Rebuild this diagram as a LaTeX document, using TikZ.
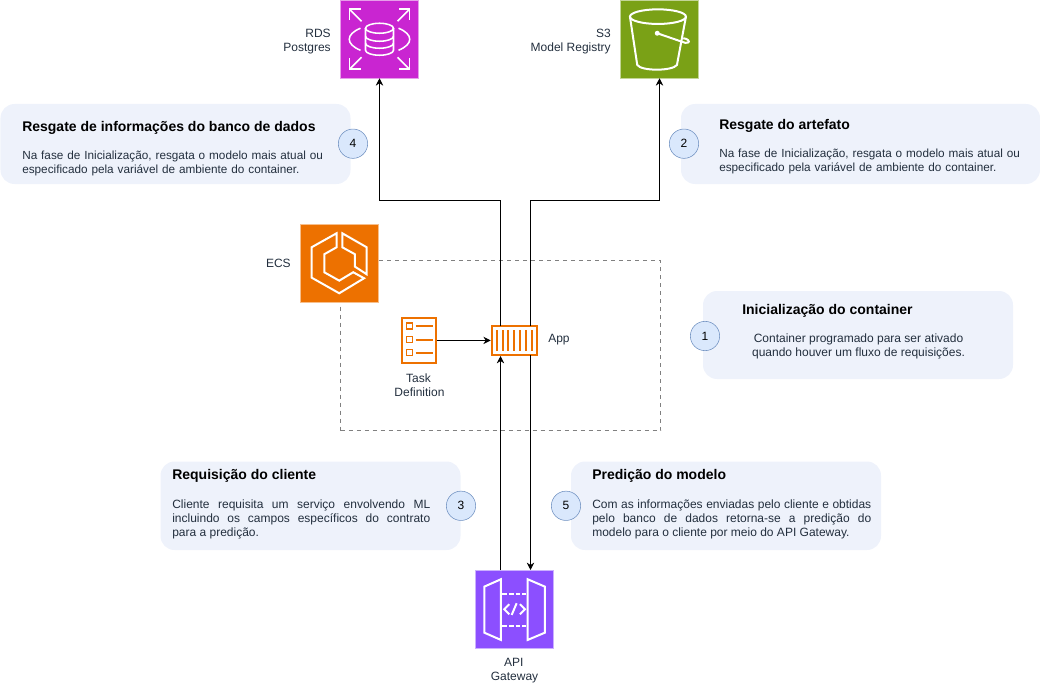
\documentclass[tikz,border=0pt]{standalone}
\usepackage{fontspec}
\setmainfont{Liberation Sans}
\usetikzlibrary{arrows.meta}
\definecolor{PanelBlue}{HTML}{EEF2FB}
\definecolor{BadgeBlue}{HTML}{DAE8FC}
\definecolor{BadgeLine}{HTML}{6C8EBF}
\definecolor{LabelGray}{HTML}{232F3E}
\definecolor{RdsPink}{HTML}{C925D1}
\definecolor{SGreen}{HTML}{7AA116}
\definecolor{EcsOrange}{HTML}{ED7100}
\definecolor{ApiPurple}{HTML}{8C4FFF}
\tikzset{
  panel/.style={fill=PanelBlue,rounded corners=10.5pt},
  badge/.style={circle,draw=BadgeLine,fill=BadgeBlue,minimum size=22pt,inner sep=0pt,font=\fontsize{9}{10.5}\selectfont},
  awsicon/.style={minimum size=58.5pt,inner sep=0pt,outer sep=0pt,draw=white!55!#1,line width=.5pt,fill=#1},
  iconline/.style={draw=white,line width=1.5pt,line join=miter},
  label/.style={text=LabelGray,font=\fontsize{9}{10.5}\selectfont,align=center,inner sep=0pt},
  title/.style={anchor=west,inner sep=0pt,font=\bfseries\fontsize{10.5}{12}\selectfont},
  body/.style={anchor=north west,inner sep=0pt,text=LabelGray,font=\fontsize{9}{10.5}\selectfont},
  flow/.style={-{Stealth[length=5.5pt,width=5.5pt]},line width=.75pt}
}
\begin{document}
\begin{tikzpicture}[x=.75pt,y=-.75pt]
\useasboundingbox (0,0) rectangle (1040,685);

% group
\node[draw=gray,dashed,line width=.5pt,minimum width=240pt,minimum height=127.5pt,inner sep=0pt] (group) at (500.5,345.5) {};

% panels
\fill[panel] (.5,104) rectangle (350.5,184);
\fill[panel] (681,104) rectangle (1040,184);
\fill[panel] (703,291) rectangle (1013,379);
\fill[panel] (160.5,461.5) rectangle (460.5,550);
\fill[panel] (571,461.5) rectangle (881,550);

% icons
\node[awsicon=RdsPink] (rds) at (379.25,39.25) {};
\node[awsicon=SGreen] (s3) at (659.25,39.25) {};
\node[awsicon=EcsOrange] (ecs) at (339.25,263.25) {};
\node[awsicon=ApiPurple] (api) at (514.25,609.25) {};

% rds glyph
\begin{scope}[iconline,line width=1.15pt,shift={(379.5,39.25)}]
\draw (-14,-11) -- (-14,11) arc[start angle=180,end angle=0,x radius=14,y radius=5] -- (14,-11);
\draw (0,-11) ellipse[x radius=14,y radius=5];
\draw (-14,-3) arc[start angle=180,end angle=0,x radius=14,y radius=5];
\draw (-14,4) arc[start angle=180,end angle=0,x radius=14,y radius=5];
\draw (-19,-11) .. controls (-34,-5) and (-34,5) .. (-19,11);
\draw (19,-11) .. controls (34,-5) and (34,5) .. (19,11);
\foreach \sx/\sy in {-1/-1,1/-1,-1/1,1/1}{
  \draw (\sx*18,\sy*18) -- (\sx*30,\sy*30);
  \draw (\sx*30,\sy*19) -- (\sx*30,\sy*30) -- (\sx*19,\sy*30);
}
\end{scope}

% s3 glyph
\begin{scope}[iconline,shift={(659.25,39.25)}]
\draw (-1.3,-22.6) ellipse[x radius=28,y radius=7.3];
\draw (-29.3,-22.6) -- (-22,25.7) .. controls (-18,32) and (13,32) .. (17.7,25.7) -- (26.7,-22.6);
\draw (-2,-6) -- (22.4,2.4) .. controls (28,5) and (31,3) .. (29,1) .. controls (28,0) and (26,-1) .. (24,-1);
\fill[white] (-2,-6) circle[radius=2.5];
\end{scope}

% ecs glyph
\begin{scope}[iconline,shift={(339.25,263.25)}]
\draw (-2.6,-30) -- (-27.6,-16) -- (-27.6,14.4) -- (0,30) -- (24.8,15) -- (14,9) -- (0,17.4) -- (-15,9) -- (-15,-9) -- (-2.6,-16) -- cycle;
\draw (3,-30) -- (27.4,-16) -- (27.4,11) -- (15.7,3.4) -- (15.7,-9) -- (3,-16) -- cycle;
\end{scope}

% api glyph
\begin{scope}[iconline,shift={(514.25,609.25)}]
\draw (-30,-22.6) -- (-13.3,-30) -- (-13.3,30.7) -- (-30,23.4) -- cycle;
\draw (30.7,-22.6) -- (13.4,-30) -- (13.4,30.7) -- (30.7,23.4) -- cycle;
\draw[dash pattern=on 3.5pt off 1.5pt] (-12,-15.3) -- (12,-15.3);
\draw[dash pattern=on 3.5pt off 1.5pt] (-12,16.7) -- (12,16.7);
\draw (-5,-5) -- (-10,0) -- (-5,5);
\draw (5.7,-5) -- (10.7,0) -- (5.7,5);
\draw (2.4,-6) -- (-2.6,5.7);
\end{scope}

% task definition
\node[draw=EcsOrange,line width=1.5pt,minimum width=25.3pt,minimum height=33.5pt,inner sep=0pt] (task) at (419,340.4) {};
\foreach \yy in {326,339.5,352.7}{
  \draw[EcsOrange,line width=1.1pt] (406.5,\yy-3) rectangle (412.5,\yy+3);
  \draw[EcsOrange,line width=1.5pt] (415.7,\yy) -- (432.7,\yy);
}

% container
\node[draw=EcsOrange,line width=1.5pt,minimum width=34.2pt,minimum height=21.5pt,inner sep=0pt] (app) at (514.5,340.4) {};
\foreach \xx in {496.7,502.7,508.3,514.2,520,526,531.7}{
  \draw[EcsOrange,line width=1.5pt] (\xx,330) -- (\xx,350.7);
}

% connectors
\coordinate (appTop1) at (500.5,326);
\coordinate (appTop2) at (530.5,326);
\coordinate (appBot1) at (500.5,356);
\coordinate (appBot2) at (530.5,355);
\coordinate (apiTop1) at (500.5,570);
\coordinate (apiTop2) at (530.5,570);
\draw[flow] (appTop1) -- (500.5,200.5) -- (379.5,200.5) -- (rds.south -| 379.5,0);
\draw[flow] (appTop2) -- (530.5,200.5) -- (659.5,200.5) -- (s3.south -| 659.5,0);
\draw[flow] (task.east) -- (app.west);
\draw[flow] (apiTop1) -- (appBot1);
\draw[flow] (appBot2) -- (apiTop2);

% icon labels
\node[label,anchor=east,align=right] (rdslabel) at (331,41.5) {RDS\\Postgres};
\node[label,anchor=east,align=right] (s3label) at (611,41.5) {S3\\Model Registry};
\node[label,anchor=east] (ecslabel) at (291,263) {ECS};
\node[label,anchor=west] (applabel) at (548,340) {App};
\node[label] (tasklabel) at (419.5,385) {Task\hspace*{1.5pt}\\Definition};
\node[label] (apilabel) at (514.5,671) {API\hspace*{1pt}\\Gateway};

% badges
\node[badge] (b4) at (353,143.7) {4};
\node[badge] (b2) at (684,143.7) {2};
\node[badge] (b1) at (705,336) {1};
\node[badge] (b3) at (461,505.8) {3};
\node[badge] (b5) at (566,505.8) {5};

% panel texts
\node[title] (t4) at (22,127.5) {Resgate de informações do banco de dados};
\node[body,text width=310pt,font=\fontsize{8.82}{10.5}\selectfont] (d4) at (22,150.5) {Na fase de Inicialização, resgata o modelo mais atual ou\\especificado pela variável de ambiente do container.};
\node[title] (t2) at (719,125.5) {Resgate do artefato};
\node[body,text width=310pt,font=\fontsize{8.82}{10.5}\selectfont] (d2) at (719,148.5) {Na fase de Inicialização, resgata o modelo mais atual ou\\especificado pela variável de ambiente do container.};
\node[title] (t1) at (742,310.5) {Inicialização do container};
\node[label] (d1) at (858.5,346) {Container programado para ser ativado\\quando houver um fluxo de requisições.};
\node[title] (t3) at (172,475.5) {Requisição do cliente};
\node[body,text width=193.5pt,align=justify] (d3) at (172,500) {\hyphenpenalty=10000 \tolerance=9999 Cliente requisita um serviço envolvendo ML\linebreak incluindo os campos específicos do contrato\linebreak para a predição.};
\node[title] (t5) at (592,475.5) {Predição do modelo};
\node[body,text width=209.25pt,align=justify] (d5) at (592,500) {\hyphenpenalty=10000 \tolerance=9999 Com as informações enviadas pelo cliente e obtidas\linebreak pelo banco de dados retorna-se a predição do\linebreak modelo para o cliente por meio do API Gateway.};
\end{tikzpicture}
\end{document}
